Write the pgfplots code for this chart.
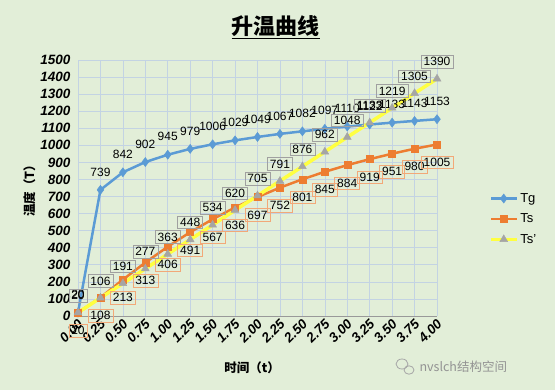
\documentclass[border=0pt]{standalone}
\usepackage{pgfplots}
\pgfplotsset{compat=1.18}
\usepackage{fontspec}
\setmainfont{Liberation Sans}
\newfontfamily\cjk{Noto Sans CJK SC}
\definecolor{bg}{HTML}{E2EED8}
\definecolor{gridc}{HTML}{C3D3E3}
\definecolor{tgc}{HTML}{5B9BD5}
\definecolor{tsc}{HTML}{ED7D31}
\definecolor{tspc}{HTML}{FFFF40}
\definecolor{trig}{HTML}{A5A5A5}
\definecolor{tsbox}{HTML}{F2A878}
\definecolor{tspbox}{HTML}{A0A0A0}
\begin{document}
\begin{tikzpicture}
\fill[bg] (0,0) rectangle (555bp,390bp);
\useasboundingbox (0,0) rectangle (555bp,390bp);
\node[font=\cjk\bfseries\fontsize{22bp}{22bp}\selectfont] at (275.5bp,363bp) {\underline{升温曲线}};
\begin{axis}[
  at={(78bp,74bp)}, anchor=south west,
  scale only axis, width=359bp, height=256bp,
  xmin=0, xmax=4, ymin=0, ymax=1500,
  xtick={0,0.25,0.5,0.75,1,1.25,1.5,1.75,2,2.25,2.5,2.75,3,3.25,3.5,3.75,4},
  xticklabels={0.00,0.25,0.50,0.75,1.00,1.25,1.50,1.75,2.00,2.25,2.50,2.75,3.00,3.25,3.50,3.75,4.00},
  ytick={0,100,...,1500},
  /pgf/number format/1000 sep={},
  /pgf/number format/assume math mode=true,
  grid=major, major grid style={gridc, line width=0.6bp},
  major tick length=0,
  axis lines*=left,
  x axis line style={draw=gray!80, line width=0.8bp},
  y axis line style={draw=gridc},
  tick label style={font=\bfseries\itshape\fontsize{13.5bp}{13.5bp}\selectfont},
  xticklabel style={rotate=45, anchor=east, yshift=-6bp, xshift=1bp},
  yticklabel style={xshift=-4bp},
  clip=false,
  xlabel={\cjk 时间（t）},
  xlabel style={font=\bfseries\fontsize{12.5bp}{12.5bp}\selectfont, at={(axis description cs:0.485,-0.203)}, anchor=center},
  ylabel={\cjk 温度（T）},
  ylabel style={font=\bfseries\fontsize{12.5bp}{12.5bp}\selectfont, at={(axis description cs:-0.135,0.5)}, anchor=center, rotate=0},
  legend style={at={(axis description cs:1.145,0.379)}, anchor=west, draw=none, fill=none,
    font=\fontsize{13bp}{13bp}\selectfont, row sep=6bp, inner sep=0pt},
  legend cell align=left,
  legend image code/.code={\draw[mark repeat=2,mark phase=2] plot coordinates {(0cm,0cm) (0.45cm,0cm) (0.9cm,0cm)};},
]
\addplot[color=tgc, line width=2.5bp, mark=diamond*, mark size=4.5bp, mark options={fill=tgc, line width=0.5bp},
  nodes near coords, every node near coord/.append style={anchor=center, yshift=18bp, text=black, fill=none, font=\fontsize{12bp}{12bp}\selectfont}]
coordinates {(0,20) (0.25,739) (0.5,842) (0.75,902) (1,945) (1.25,979) (1.5,1006) (1.75,1029) (2,1049) (2.25,1067) (2.5,1082) (2.75,1097) (3,1110) (3.25,1122) (3.5,1133) (3.75,1143) (4,1153)};
\addlegendentry{Tg}
\addplot[color=tsc, line width=2.5bp, mark=square*, mark size=3.5bp, mark options={fill=tsc, line width=0.5bp},
  nodes near coords, every node near coord/.append style={anchor=center, yshift=-18bp, text=black, fill=none, draw=tsbox, line width=0.6bp, inner xsep=2.5bp, inner ysep=2bp, font=\fontsize{12bp}{12bp}\selectfont}]
coordinates {(0,20) (0.25,108) (0.5,213) (0.75,313) (1,406) (1.25,491) (1.5,567) (1.75,636) (2,697) (2.25,752) (2.5,801) (2.75,845) (3,884) (3.25,919) (3.5,951) (3.75,980) (4,1005)};
\addlegendentry{Ts}
\addplot[color=tspc, line width=3.5bp, mark=triangle*, mark size=4.5bp, mark options={fill=trig, draw=trig, line width=0.5bp},
  nodes near coords, every node near coord/.append style={anchor=center, yshift=17bp, text=black, fill=none, draw=tspbox, line width=0.6bp, inner xsep=2.5bp, inner ysep=2bp, font=\fontsize{12bp}{12bp}\selectfont}]
coordinates {(0,20) (0.25,106) (0.5,191) (0.75,277) (1,363) (1.25,448) (1.5,534) (1.75,620) (2,705) (2.25,791) (2.5,876) (2.75,962) (3,1048) (3.25,1133) (3.5,1219) (3.75,1305) (4,1390)};
\addlegendentry{Ts'}
\end{axis}
\begin{scope}[gray!70, line width=0.8bp]
\draw (402bp,26bp) ellipse (6bp and 5bp);
\draw (409bp,20bp) ellipse (5bp and 4.2bp);
\end{scope}
\node[anchor=west, text=gray!85, font=\cjk\fontsize{12.5bp}{12.5bp}\selectfont] at (416bp,23bp) {nvslch结构空间};
\end{tikzpicture}
\end{document}
